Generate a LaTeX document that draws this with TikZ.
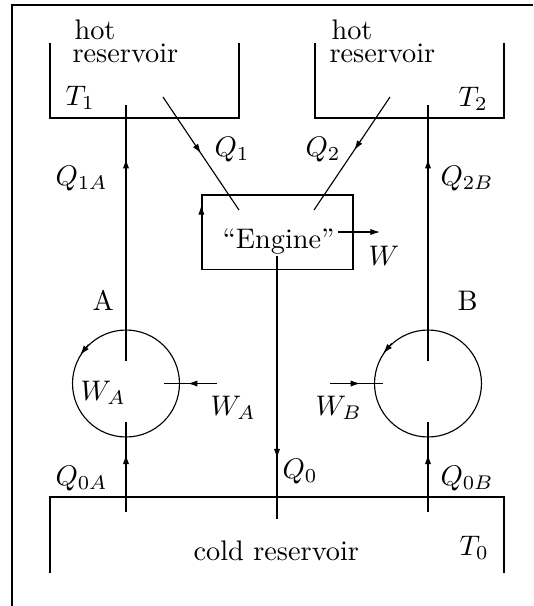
\documentclass[tikz,border=0pt]{standalone}
\usetikzlibrary{arrows.meta,decorations.markings}
\tikzset{
  tipsty/.style={-{Latex[length=3.4pt,width=2.2pt]}},
  midarrow/.style={postaction={decorate},
    decoration={markings, mark=at position #1 with {\arrow{Latex[length=3.4pt,width=2.2pt]}}}},
  lbl/.style={inner sep=0pt, anchor=base west},
  cyc/.style={circle, draw, minimum size=37.8pt, inner sep=0pt},
  enginebox/.style={draw, minimum width=53.4pt, minimum height=26.2pt, inner sep=0pt},
}
\begin{document}
\begin{tikzpicture}[x=0.3534pt,y=-0.3534pt]
\useasboundingbox (0,0) rectangle (533,606);
% frame
\draw (12,606) -- (12,5) -- (533,5);
% reservoirs
\draw (50,43) -- (50,118) -- (239,118) -- (239,43);
\draw (315,43) -- (315,118) -- (504,118) -- (504,43);
\draw (50,573) -- (50,497) -- (504,497) -- (504,573);
\node[lbl] (hot1) at (74,39) {hot};
\node[lbl] (res1) at (72,62) {reservoir};
\node[lbl] (hot2) at (331,39) {hot};
\node[lbl] (res2) at (329,62) {reservoir};
\node[lbl] (t1) at (65,105) {$T_1$};
\node[lbl] (t2) at (458,106) {$T_2$};
\node[lbl] (cold) at (193,560) {cold reservoir};
\node[lbl] (t0) at (459,555) {$T_0$};
% engine
\node[enginebox] (engine) at (277.5,232) {};
\node[lbl] (engtxt) at (222,248) {``Engine''};
\draw[tipsty] (engine.south west) -- (engine.west |- 0,205);
\coordinate (w1) at (338,232);
\coordinate (w2) at (380,232);
\draw[tipsty] (w1) -- (w2);
\node[lbl] (wl) at (368,265) {$W$};
% cycles
\node[cyc] (cA) at (126,383.5) {};
\node[cyc] (cB) at (428,383.5) {};
\draw[tipsty] (cA.134) -- (cA.148);
\draw[tipsty] (cB.132) -- (cB.146);
% vertical lines A
\coordinate (a1) at (126,105);
\coordinate (a2) at (126,361);
\coordinate (a3) at (126,422);
\coordinate (a4) at (126,512);
\draw[midarrow=0.79] (a2) -- (a1);
\draw[midarrow=0.64] (a4) -- (a3);
% vertical lines B
\coordinate (b1) at (428,105);
\coordinate (b2) at (428,361);
\coordinate (b3) at (428,422);
\coordinate (b4) at (428,512);
\draw[midarrow=0.79] (b2) -- (b1);
\draw[midarrow=0.64] (b4) -- (b3);
% Q0
\coordinate (q0a) at (277,256);
\coordinate (q0b) at (277,519);
\draw[midarrow=0.77] (q0a) -- (q0b);
% Q1, Q2
\coordinate (q1a) at (163,97);
\coordinate (q1b) at (239,210);
\draw[midarrow=0.5] (q1a) -- (q1b);
\coordinate (q2a) at (390,97);
\coordinate (q2b) at (314,210);
\draw[midarrow=0.47] (q2a) -- (q2b);
% work arrows
\coordinate (wa1) at (217,383.5);
\coordinate (wa2) at (164,383.5);
\draw[midarrow=0.55] (wa1) -- (wa2);
\coordinate (wb1) at (330,383.5);
\coordinate (wb2) at (383,383.5);
\draw[midarrow=0.57] (wb1) -- (wb2);
% labels
\node[lbl] (lq1) at (214,156) {$Q_1$};
\node[lbl] (lq2) at (305,156) {$Q_2$};
\node[lbl] (lq1a) at (55,185) {$Q_{1A}$};
\node[lbl] (lq2b) at (440,185) {$Q_{2B}$};
\node[lbl] (la) at (92,310) {A};
\node[lbl] (lb) at (457,310) {B};
\node[lbl] (lwa1) at (80,400) {$W_A$};
\node[lbl] (lwa2) at (210,415) {$W_A$};
\node[lbl] (lwb) at (315,415) {$W_B$};
\node[lbl] (lq0a) at (55,485) {$Q_{0A}$};
\node[lbl] (lq0) at (282,478) {$Q_0$};
\node[lbl] (lq0b) at (440,485) {$Q_{0B}$};
\end{tikzpicture}
\end{document}
